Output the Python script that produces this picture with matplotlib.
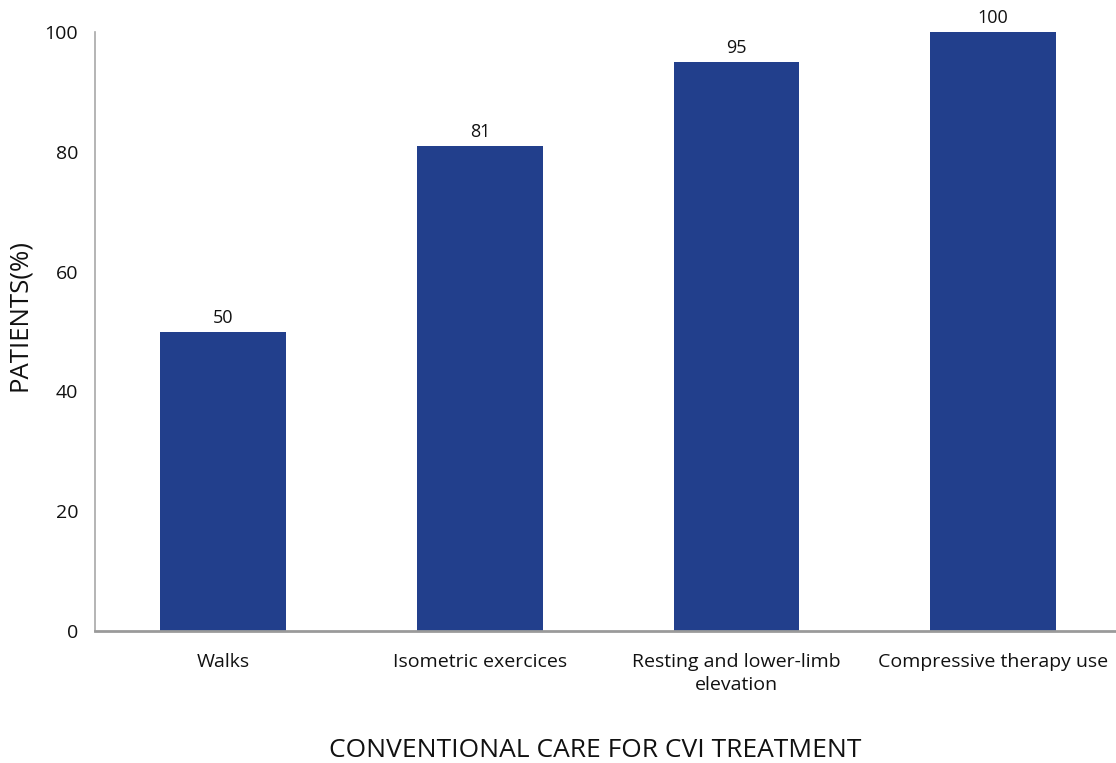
import matplotlib
matplotlib.use("Agg")
import matplotlib.pyplot as plt

# ==========================================================
# DATOS
# ==========================================================

categorias = [
    "Walks",
    "Isometric exercices",
    "Resting and lower-limb\nelevation",
    "Compressive therapy use",
]

pacientes = [50, 81, 95, 100]

ticks_y = [0, 20, 40, 60, 80, 100]

# ==========================================================
# GRAFICA
# ==========================================================

plt.rcParams["font.family"] = ["Open Sans", "DejaVu Sans"]

fig = plt.figure(figsize=(11.16, 7.63), dpi=100)
ax = fig.add_axes([0.0851, 0.173, 0.915, 0.785])

x = list(range(len(categorias)))

ax.bar(x, pacientes, width=0.49, color="#223F8C", zorder=2)

for xi, v in zip(x, pacientes):
    ax.text(xi, v + 0.8, str(v), ha="center", va="bottom",
            fontsize=13, color="#111111")

ax.set_xlim(-0.5, 3.48)
ax.set_ylim(0, 100)
ax.set_yticks(ticks_y)
ax.set_xticks(x)
ax.set_xticklabels(categorias, fontsize=14, color="#111111",
                   linespacing=1.35)
ax.tick_params(axis="y", labelsize=14, length=0, pad=12,
               labelcolor="#111111")
ax.tick_params(axis="x", length=0, pad=16)

for lado in ["top", "right"]:
    ax.spines[lado].set_visible(False)

ax.spines["left"].set_color("#a8a8a8")
ax.spines["left"].set_linewidth(1.2)
ax.spines["bottom"].set_color("#9a9a9a")
ax.spines["bottom"].set_linewidth(2)
ax.spines["bottom"].set_zorder(3)

ax.set_xlabel("CONVENTIONAL CARE FOR CVI TREATMENT", fontsize=19,
              color="#111111")
ax.xaxis.set_label_coords(0.49, -0.179)
ax.set_ylabel("PATIENTS(%)", fontsize=18.5, color="#111111")
ax.yaxis.set_label_coords(-0.062, 0.528)

fig.savefig("out.png", dpi=100)
